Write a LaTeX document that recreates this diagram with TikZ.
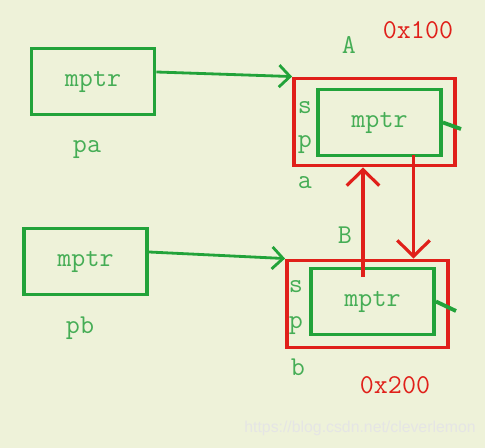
\documentclass[tikz,border=0pt]{standalone}
\usepackage{fontspec}
\setsansfont{Liberation Sans}
\usepackage{tikz}
\usetikzlibrary{arrows.meta,positioning}
\definecolor{PaperBG}{HTML}{EEF2D9}
\definecolor{PtrGreen}{HTML}{22A33A}
\definecolor{TxtGreen}{HTML}{45AD55}
\definecolor{ObjRed}{HTML}{E0201A}

\begin{document}
\begin{tikzpicture}[
  gbox/.style={draw=PtrGreen, line width=2.2pt, minimum width=2.46cm,
               minimum height=1.32cm, inner sep=0pt, text=TxtGreen,
               font=\fontsize{15.5}{17}\ttfamily},
  rbox/.style={draw=ObjRed, line width=2.2pt, minimum width=3.22cm,
               minimum height=1.74cm, inner sep=0pt},
  lbl/.style={text=TxtGreen, font=\fontsize{15.5}{17}\ttfamily, inner sep=0pt},
  addr/.style={text=ObjRed, font=\fontsize{15.5}{17}\ttfamily, inner sep=0pt},
  garrow/.style={draw=PtrGreen, line width=1.6pt,
                 -{Straight Barb[length=2.2mm,width=4.4mm,line width=1.6pt]}},
  rarrow/.style={draw=ObjRed, line width=1.8pt,
                 -{Straight Barb[length=3.2mm,width=6.5mm,line width=1.8pt]}}]
  \useasboundingbox[fill=PaperBG] (0,0) rectangle (9.7,8.96);
  % pointers
  \node[gbox] (pa) at (1.86,7.33) {mptr};
  \node[gbox] (pb) at (1.71,3.73) {mptr};
  \node[lbl] (paname) at (1.74,5.96) {pa};
  \node[lbl] (pbname) at (1.60,2.40) {pb};
  % objects
  \node[rbox] (objA) at (7.49,6.52) {};
  \node[gbox] (inA)  at (7.59,6.51) {mptr};
  \node[rbox] (objB) at (7.35,2.88) {};
  \node[gbox] (inB)  at (7.45,2.93) {mptr};
  \node[lbl] (sA) at (6.10,6.80) {s};
  \node[lbl] (pA) at (6.10,6.06) {p};
  \node[lbl] (aA) at (6.10,5.30) {a};
  \node[lbl] (nA) at (6.98,8.06) {A};
  \node[addr] (adA) at (8.36,8.36) {0x100};
  \node[lbl] (sB) at (5.92,3.22) {s};
  \node[lbl] (pB) at (5.92,2.44) {p};
  \node[lbl] (bB) at (5.96,1.62) {b};
  \node[lbl] (nB) at (6.90,4.26) {B};
  \node[addr] (adB) at (7.90,1.26) {0x200};
  % links
  \draw[garrow] ([yshift=0.19cm]pa.east) -- (objA.north west);
  \draw[garrow] ([yshift=0.19cm]pb.east) -- (objB.north west);
  \coordinate (stubA) at (9.22,6.38);
  \coordinate (stubB) at (9.12,2.74);
  \draw[draw=PtrGreen, line width=2.2pt] (inA.east) -- (stubA);
  \draw[draw=PtrGreen, line width=2.2pt] (inB.east) -- (stubB);
  \coordinate (upS) at (7.26,3.42);
  \coordinate (dnS) at (8.27,5.86);
  \draw[rarrow] (upS) -- (upS |- objA.south);
  \draw[rarrow] (dnS) -- (dnS |- objB.north);
  % watermark
  \node[text=white!80!gray, font=\fontsize{9}{11}\sffamily] (mark) at (7.20,0.40)
    {https://blog.csdn.net/cleverlemon};
\end{tikzpicture}
\end{document}
